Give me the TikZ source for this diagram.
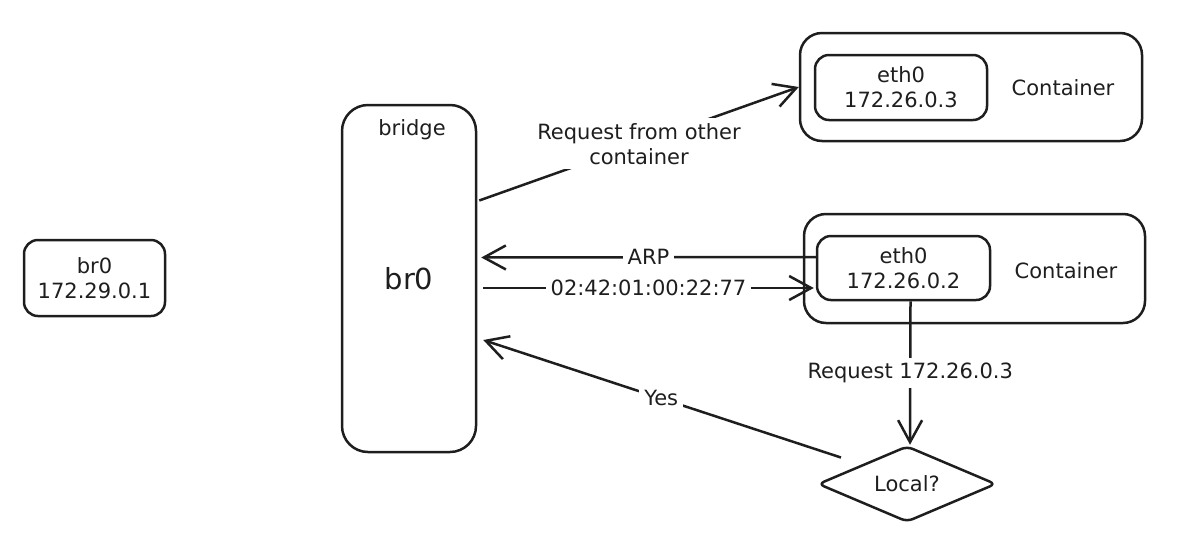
\documentclass[tikz,border=0pt]{standalone}
\usepackage{fontspec}
\setmainfont{DejaVu Sans}
\usetikzlibrary{
  arrows.meta,
  shapes.geometric,
  calc,
  positioning
}
\definecolor{ink}{HTML}{1E1E1E}
\tikzset{
  box/.style={
    draw=ink, text=ink, line width=1.25pt,
    rounded corners=7pt, align=center, inner sep=0pt,
    font=\fontsize{10.5}{12.5}\selectfont
  },
  tallbox/.style={box, rounded corners=13pt},
  outerbox/.style={box, rounded corners=11pt},
  decide/.style={box, diamond, aspect=2.3, rounded corners=3pt},
  txt/.style={text=ink, align=center, inner sep=1pt, font=\fontsize{10.5}{12.5}\selectfont},
  lbl/.style={txt, fill=white, inner sep=2.5pt},
  arr/.style={draw=ink, line width=1.25pt, -{Straight Barb[length=11pt, width=12pt]}},
}

\begin{document}
\begin{tikzpicture}[x=0.5pt, y=-0.5pt]
\useasboundingbox (0,0) rectangle (1202,541);

% host bridge
\node[box, minimum width=70.5pt, minimum height=38pt] (host) at (94.5,278) {br0\\172.29.0.1};

% docker bridge
\node[tallbox, minimum width=67pt, minimum height=173.5pt,
      font=\fontsize{14.5}{17}\selectfont] (bridge) at (409,278.5) {br0};
\node[txt] (bridgelbl) at (412,130) {bridge};

% container on top
\node[outerbox, minimum width=171pt, minimum height=54pt] (topC) at (971,87) {};
\node[box, minimum width=86pt, minimum height=32.5pt] (ethA) at (901,87.5) {eth0\\172.26.0.3};
\node[txt] (topClbl) at (1063,88) {Container};

% container below
\node[outerbox, minimum width=170.5pt, minimum height=54.5pt] (botC) at (974.5,268.5) {};
\node[box, minimum width=86.5pt, minimum height=32pt] (ethB) at (903.5,268) {eth0\\172.26.0.2};
\node[txt] (botClbl) at (1066,271) {Container};

% decision
\node[decide, minimum width=89pt, minimum height=38pt] (local) at (907,484) {Local?};

% connectors
\draw[arr] ($(bridge.east)+(2,-78)$) -- node[lbl] {Request from other\\container} (topC.west);
\draw[arr] ($(ethB.west)+(0,-11)$) -- node[lbl] {ARP} ($(bridge.east)+(4,-21)$);
\draw[arr] ($(bridge.east)+(6,9.5)$) -- node[lbl] {02:42:01:00:22:77} ($(ethB.west)+(-2,20)$);
\draw[arr] ($(ethB.south)+(7,0)$) -- node[lbl] {Request 172.26.0.3} ($(local.north)+(3,0)$);
\draw[arr, shorten <=11pt] (local.north west) -- node[lbl, pos=0.53] {Yes} ($(bridge.east)+(6,61.5)$);

\end{tikzpicture}
\end{document}
